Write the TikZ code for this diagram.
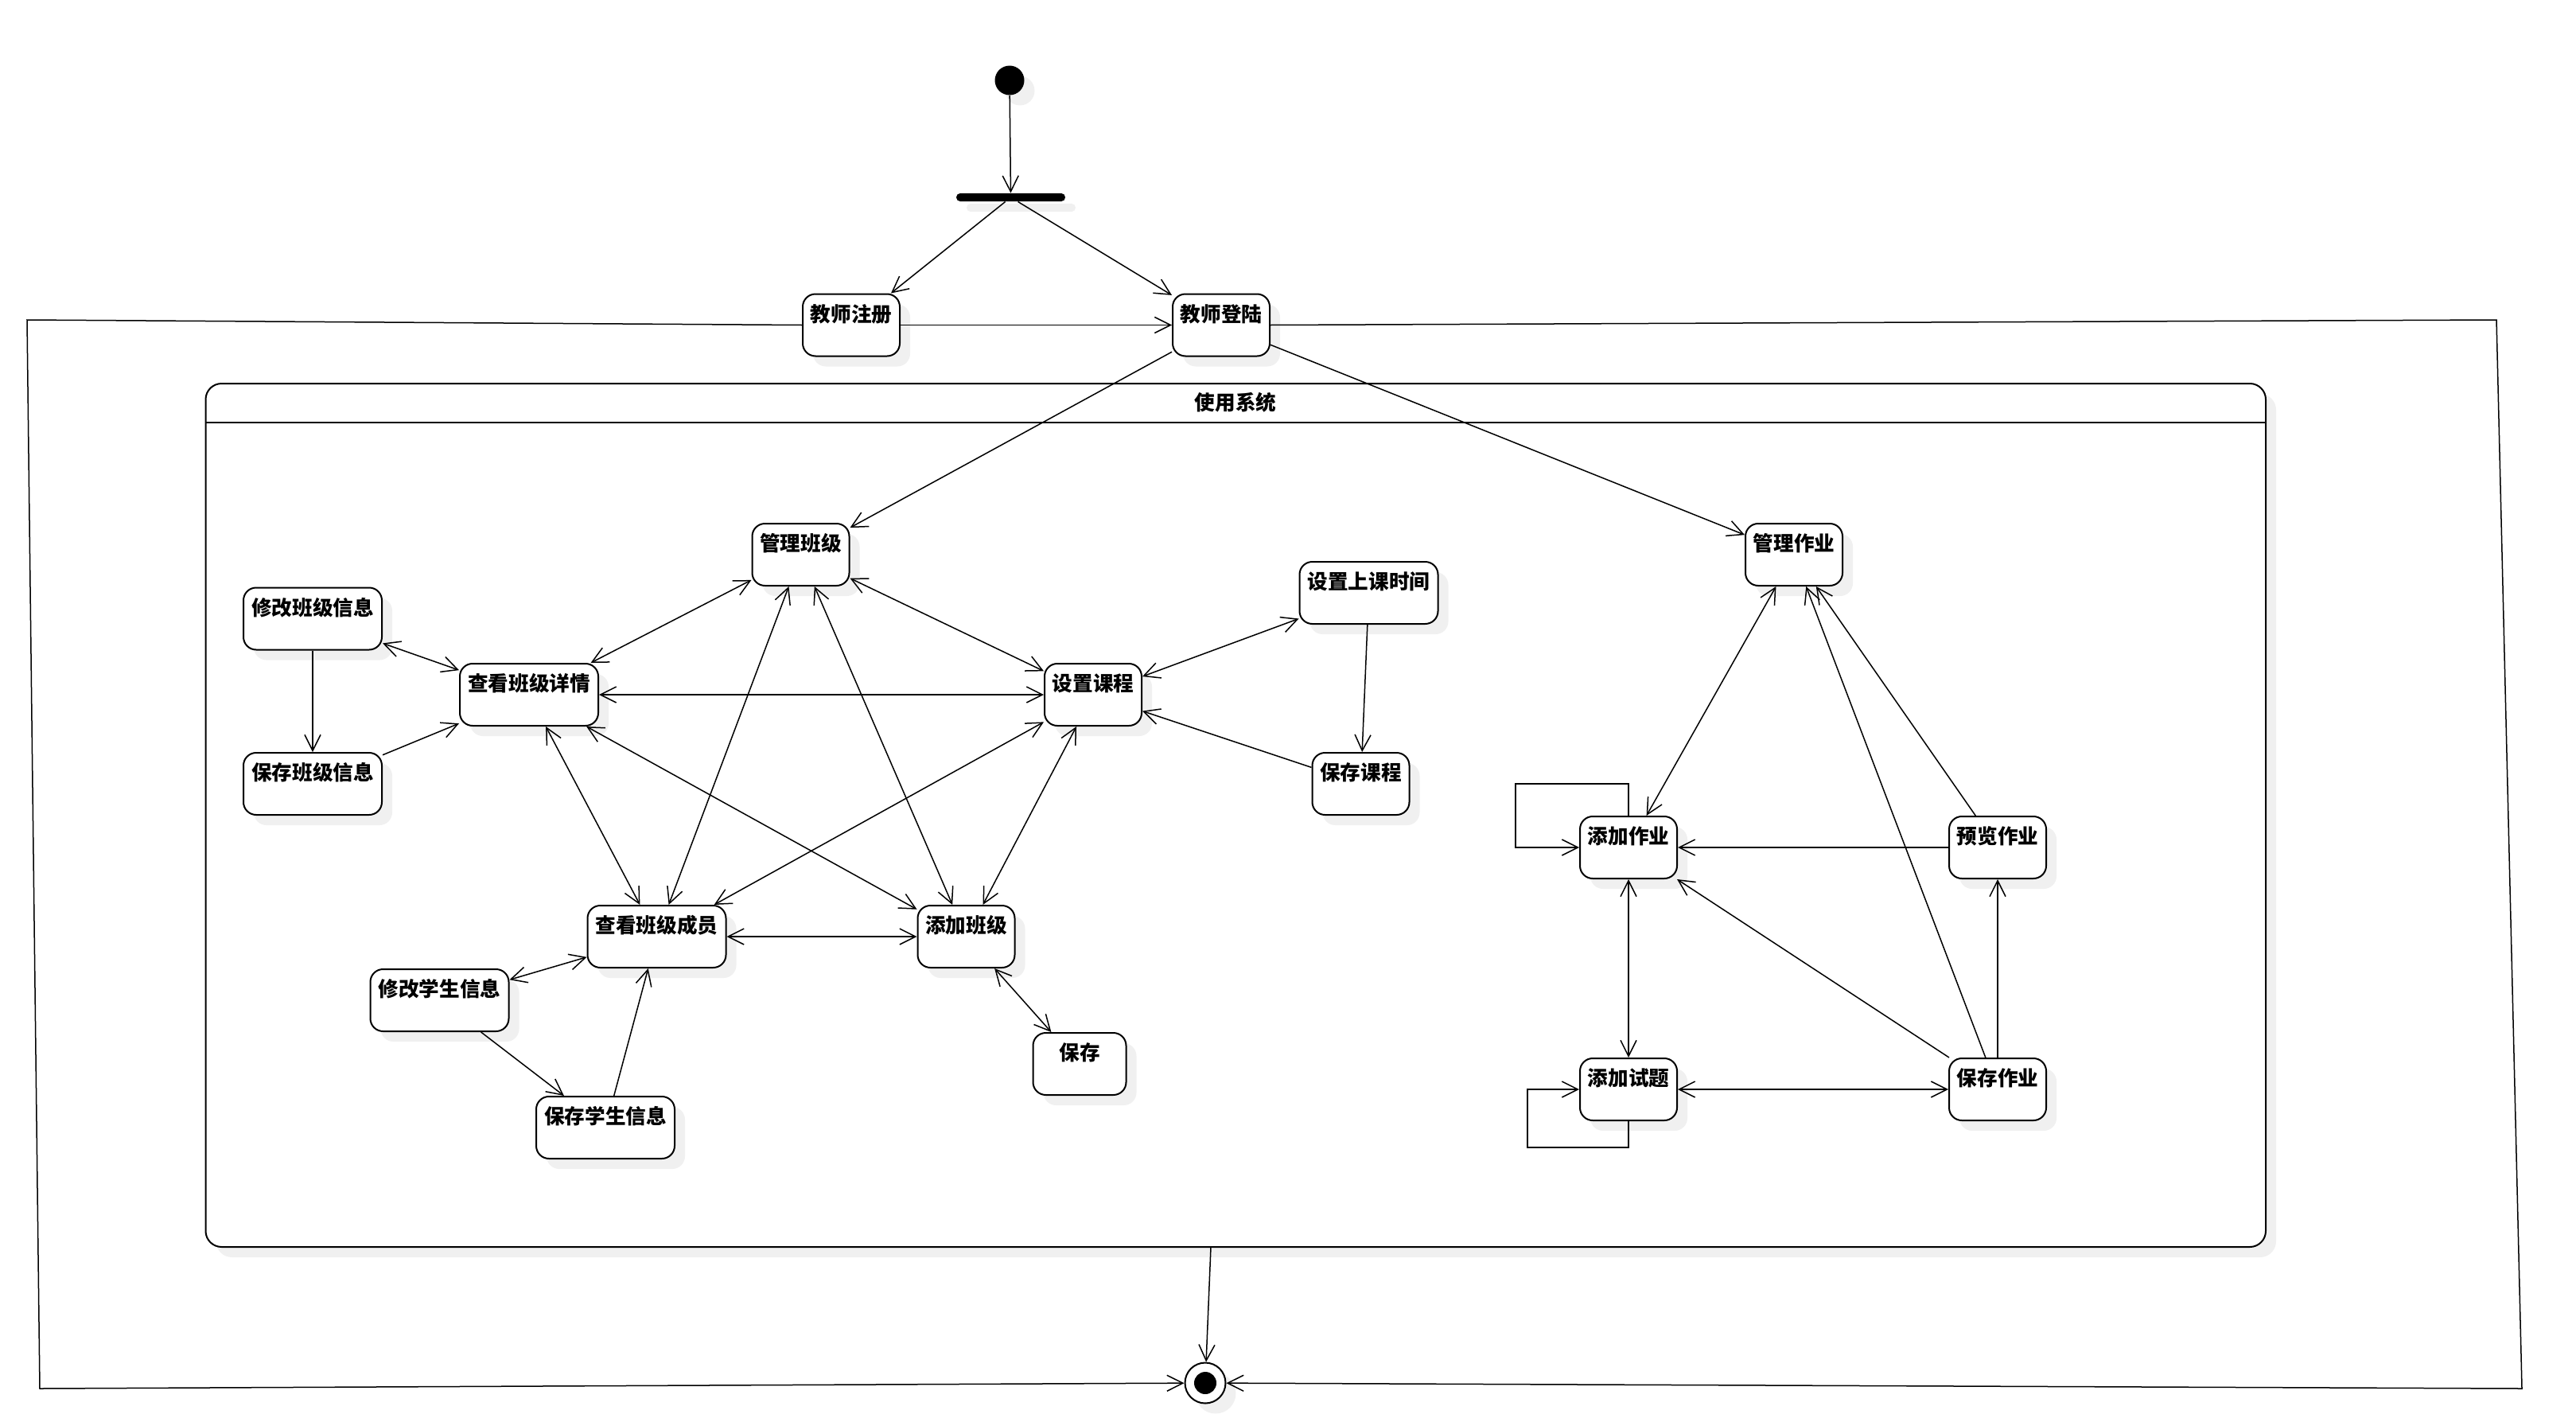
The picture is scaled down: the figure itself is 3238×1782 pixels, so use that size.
\documentclass[tikz,border=0pt]{standalone}
\usepackage{fontspec}
\newfontfamily\cjk{Noto Sans CJK SC}
\usetikzlibrary{arrows.meta,shadows,calc}
\tikzset{
  shad/.style={general shadow={fill=black!6, shadow xshift=6.5pt, shadow yshift=-6.5pt}},
  st/.style={draw, line width=1pt, rounded corners=8pt, fill=white, inner sep=0pt,
    minimum width=61pt, minimum height=39pt, text height=17.3pt, text depth=21.7pt,
    font=\cjk\bfseries\fontsize{12.8pt}{14pt}\selectfont, shad},
  wide/.style={minimum width=87pt},
  narrow/.style={minimum width=58.5pt},
  tip/.tip={Straight Barb[length=10pt,width=10pt]},
  arr/.style={line width=0.75pt, -tip},
  biarr/.style={line width=0.75pt, tip-tip},
}
\begin{document}
\begin{tikzpicture}[x=0.5pt,y=-0.5pt]
\useasboundingbox (0,0) rectangle (3238,1782);
% composite state
\node[draw, line width=1pt, rounded corners=10pt, fill=white, shad, inner sep=0pt,
  minimum width=1294.75pt, minimum height=542.5pt] (comp) at (1553.25,1024.5) {};
\draw[line width=1pt] (258.5,531) -- (2848,531);
\node[font=\cjk\bfseries\fontsize{12.8pt}{14pt}\selectfont, inner sep=0pt] (title) at (1553,506) {使用系统};
% start, fork, final
\node[circle, fill=black, inner sep=0pt, minimum size=18.5pt, shad] (start) at (1269,101) {};
\node[rectangle, fill=black, rounded corners=2.5pt, inner sep=0pt, minimum width=68.5pt, minimum height=5.1pt, shad] (fork) at (1270.5,248) {};
\node[circle, draw, line width=1pt, fill=white, inner sep=0pt, minimum size=25.5pt, shad] (final) at (1515,1738) {};
\fill (final.center) circle (7pt);
% states
\node[st] (zhuce) at (1070,408.5) {教师注册};
\node[st] (denglu) at (1535,408.5) {教师登陆};
\node[st] (glbj) at (1006.5,697) {管理班级};
\node[st] (szkc) at (1374,873) {设置课程};
\node[st,wide] (szsj) at (1720.5,745) {设置上课时间};
\node[st] (glzy) at (2255,697) {管理作业};
\node[st,wide] (xgbj) at (393,777.5) {修改班级信息};
\node[st,wide] (ckxq) at (665,873) {查看班级详情};
\node[st,wide] (bcbj) at (393,985) {保存班级信息};
\node[st,wide] (ckcy) at (825.5,1177) {查看班级成员};
\node[st,wide] (xgxs) at (552.5,1257) {修改学生信息};
\node[st,wide] (bcxs) at (761,1417) {保存学生信息};
\node[st] (tjbj) at (1214.5,1177) {添加班级};
\node[st,narrow] (bc) at (1357,1337) {保存};
\node[st] (bckc) at (1710.5,985) {保存课程};
\node[st] (tjzy) at (2047,1065) {添加作业};
\node[st] (tjst) at (2047,1369) {添加试题};
\node[st] (ylzy) at (2511,1065) {预览作业};
\node[st] (bczy) at (2511,1369) {保存作业};
% outer loop corners
\coordinate (c1) at (34,402);
\coordinate (c2) at (50,1745);
\coordinate (c3) at (3138,402);
\coordinate (c4) at (3170,1745);
\coordinate (compout) at (1522,1567);
% top flow
\draw[arr] (start) -- (fork);
\draw[arr] (fork) -- (zhuce);
\draw[arr] (fork) -- (denglu);
\draw[arr] (zhuce) -- (denglu);
\draw[arr] (denglu) -- (glbj);
\draw[arr] (denglu) -- (glzy);
\draw[arr] (zhuce.west) -- (c1) -- (c2) -- (final);
\draw[arr] (denglu.east) -- (c3) -- (c4) -- (final);
\draw[arr] (compout) -- (final);
% class management
\draw[biarr] (glbj) -- (ckxq);
\draw[biarr] (xgbj) -- (ckxq);
\draw[arr] (xgbj) -- (bcbj);
\draw[arr] (bcbj) -- (ckxq);
\draw[biarr] (ckxq) -- (szkc);
\draw[biarr] (ckxq) -- (ckcy);
\draw[biarr] (glbj) -- (ckcy);
\draw[biarr] (ckxq) -- (tjbj);
\draw[biarr] (glbj) -- (tjbj);
\draw[biarr] (glbj) -- (szkc);
\draw[biarr] (szkc) -- (ckcy);
\draw[biarr] (szkc) -- (tjbj);
\draw[biarr] (ckcy) -- (tjbj);
\draw[biarr] (xgxs) -- (ckcy);
\draw[arr] (xgxs) -- (bcxs);
\draw[arr] (bcxs) -- (ckcy);
\draw[biarr] (tjbj) -- (bc);
\draw[biarr] (szkc) -- (szsj);
\draw[arr] (szsj) -- (bckc);
\draw[arr] (bckc) -- (szkc);
% homework management
\draw[biarr] (glzy) -- (tjzy);
\draw[arr] (bczy) -- (glzy);
\draw[arr] (ylzy) -- (glzy);
\draw[arr] (ylzy) -- (tjzy);
\draw[arr] (bczy) -- (tjzy);
\draw[biarr] (tjzy) -- (tjst);
\draw[biarr] (tjst) -- (bczy);
\draw[arr] (bczy) -- (ylzy);
\draw[arr] (tjzy.north) -- ++(0,-40) -| ($(tjzy.west)+(-80,0)$) -- (tjzy.west);
\draw[arr] (tjst.south) -- ++(0,33) -| ($(tjst.west)+(-65,0)$) -- (tjst.west);
\end{tikzpicture}
\end{document}
